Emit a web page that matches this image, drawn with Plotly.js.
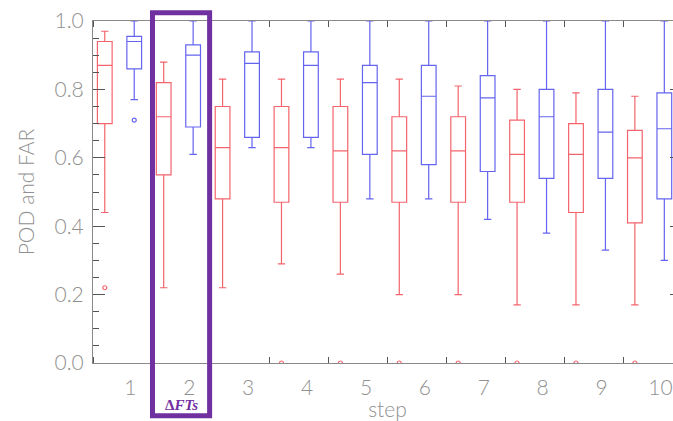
<!DOCTYPE html>
<html>
<head>
<meta charset="utf-8">
<script src="https://cdn.plot.ly/plotly-3.0.1.min.js"></script>
<style>
html, body { margin:0; padding:0; overflow:hidden; background:#fff; }
#chart { width:700px; height:421px; }
</style>
</head>
<body>
<div id="chart"></div>
<script>
// ---- data ----
const steps = [1,2,3,4,5,6,7,8,9,10];
const stepLabels = ['1','2','3','4','5','6','7','8','9','10'];

const redUpper  = [0.97,0.88,0.83,0.83,0.83,0.83,0.81,0.80,0.79,0.78];
const redQ3     = [0.94,0.82,0.75,0.75,0.75,0.72,0.72,0.71,0.70,0.68];
const redMedian = [0.87,0.72,0.63,0.63,0.62,0.62,0.62,0.61,0.61,0.60];
const redQ1     = [0.70,0.55,0.48,0.47,0.47,0.47,0.47,0.47,0.44,0.41];
const redLower  = [0.44,0.22,0.22,0.29,0.26,0.20,0.20,0.17,0.17,0.17];
const redOutlierSteps  = [1,4,5,6,7,8,9,10];
const redOutlierValues = [0.22,0,0,0,0,0,0,0];

const blueUpper  = [1,1,1,1,1,1,1,1,1,1];
const blueQ3     = [0.955,0.93,0.91,0.91,0.87,0.87,0.84,0.80,0.80,0.79];
const blueMedian = [0.94,0.90,0.876,0.87,0.82,0.78,0.775,0.72,0.675,0.685];
const blueQ1     = [0.86,0.69,0.66,0.66,0.61,0.58,0.56,0.54,0.54,0.48];
const blueLower  = [0.77,0.61,0.63,0.63,0.48,0.48,0.42,0.38,0.33,0.30];
const blueOutlierSteps  = [1];
const blueOutlierValues = [0.71];

const yTicks = [0,0.2,0.4,0.6,0.8,1.0];

// ---- layout helpers (positions within each step slot) ----
const RED_OFF = -0.8, BLUE_OFF = -0.3, LABEL_OFF = -0.365;
const RED = '#f4646c', BLUE = '#6464f0', PURPLE = '#7030a0';
const pos = (arr, off) => arr.map(s => s + off);

const boxStyle = c => ({
  type:'box', boxpoints:false, width:0.25, whiskerwidth:0.5,
  line:{color:c, width:1.2}, fillcolor:'rgba(0,0,0,0)', showlegend:false, hoverinfo:'skip'
});

const traces = [
  Object.assign(boxStyle(RED), {
    x: pos(steps, RED_OFF), q1: redQ1, median: redMedian, q3: redQ3,
    lowerfence: redLower, upperfence: redUpper
  }),
  Object.assign(boxStyle(BLUE), {
    x: pos(steps, BLUE_OFF), q1: blueQ1, median: blueMedian, q3: blueQ3,
    lowerfence: blueLower, upperfence: blueUpper
  }),
  { type:'scatter', mode:'markers', x: pos(redOutlierSteps, RED_OFF), y: redOutlierValues,
    marker:{symbol:'circle-open', size:4, color:RED, line:{width:1.2}}, showlegend:false, hoverinfo:'skip' },
  { type:'scatter', mode:'markers', x: pos(blueOutlierSteps, BLUE_OFF), y: blueOutlierValues,
    marker:{symbol:'circle-open', size:4, color:BLUE, line:{width:1.2}}, showlegend:false, hoverinfo:'skip' }
];

const FONT = 'Lato, "DejaVu Sans", sans-serif';
const GREY = '#909090';
const tf = size => ({family:FONT, size:size, color:GREY, weight:300});

const layout = {
  width:700, height:421,
  margin:{l:93, r:18, t:21, b:58},
  paper_bgcolor:'#fff', plot_bgcolor:'#fff',
  font:tf(21),
  xaxis:{
    range:[0,10], showgrid:false, zeroline:false,
    showline:true, linecolor:'#8a8a8a', linewidth:1, mirror:'ticks',
    tickmode:'array', tickvals: pos(steps, LABEL_OFF), ticktext: stepLabels,
    ticks:'', ticklabelstandoff:6,
    tickfont:tf(21),
    minor:{tickmode:'array', tickvals: steps.map(s => s - 1).concat([10]), ticks:'inside', ticklen:6, tickcolor:'#555', tickwidth:1, showgrid:false},
    title:{text:'step', font:tf(21), standoff:4}
  },
  yaxis:{
    range:[0,1], showgrid:false, zeroline:false,
    showline:true, linecolor:'#8a8a8a', linewidth:1, mirror:'ticks',
    tickmode:'array', tickvals:yTicks, tickformat:'.1f',
    ticks:'inside', ticklen:12, tickcolor:'#555', tickwidth:1, ticklabelstandoff:4,
    tickfont:tf(21),
    minor:{dtick:0.05, ticks:'inside', ticklen:6, tickcolor:'#555', tickwidth:1, showgrid:false},
    title:{text:'POD and FAR', font:tf(21), standoff:14}
  },
  shapes:[{
    type:'rect', xref:'paper', yref:'paper',
    x0:0.101, x1:0.198, y0:-0.154, y1:1.024,
    line:{color:PURPLE, width:5}, fillcolor:'rgba(0,0,0,0)'
  }],
  annotations:[{
    xref:'paper', yref:'paper', x:0.151, y:-0.123, showarrow:false,
    text:'<b>Δ<i>FTs</i></b>', font:{family:'"Liberation Serif", "DejaVu Serif", serif', size:15, color:PURPLE},
    xanchor:'center', yanchor:'middle'
  }]
};

Plotly.newPlot('chart', traces, layout, {staticPlot:true, displayModeBar:false});
</script>
</body>
</html>
